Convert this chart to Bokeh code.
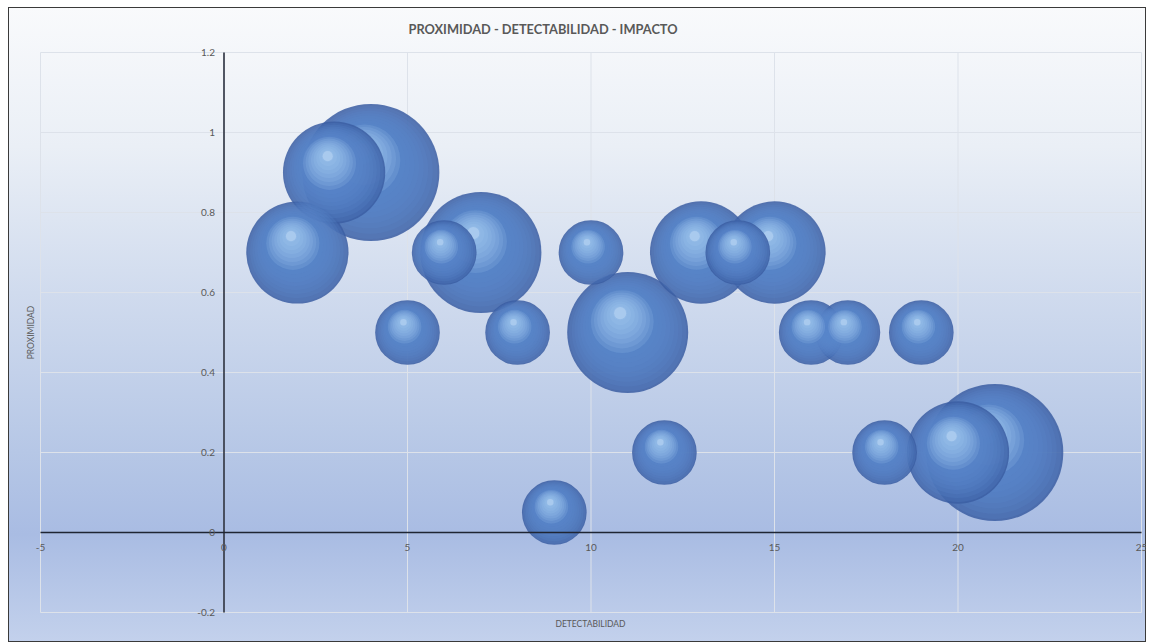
import math
from bokeh.plotting import figure
from bokeh.models import ColumnDataSource, LabelSet, Title
from bokeh.core.properties import value
from bokeh.embed import file_html
from bokeh.resources import INLINE

# ---------------- data ----------------
detectabilidad = [2, 3, 4, 5, 6, 7, 8, 9, 10, 11, 12, 13, 14, 15, 16, 17, 18, 19, 20, 21]
proximidad = [0.7, 0.9, 0.9, 0.5, 0.7, 0.7, 0.5, 0.05, 0.7, 0.5, 0.2, 0.7, 0.7, 0.7, 0.5, 0.5, 0.2, 0.5, 0.2, 0.2]
impacto = [5, 5, 9, 2, 2, 7, 2, 2, 2, 7, 2, 5, 2, 5, 2, 2, 2, 2, 5, 9]

x_ticks = [-5, 0, 5, 10, 15, 20, 25]
x_tick_labels = ["-5", "0", "5", "10", "15", "20", "25"]
y_ticks = [-0.2, 0, 0.2, 0.4, 0.6, 0.8, 1.0, 1.2]
y_tick_labels = ["-0.2", "0", "0.2", "0.4", "0.6", "0.8", "1", "1.2"]

title_text = "PROXIMIDAD - DETECTABILIDAD - IMPACTO"
x_title = "DETECTABILIDAD"
y_title = "PROXIMIDAD"

# ---------------- layout ----------------
XMIN, XMAX, YMIN, YMAX = x_ticks[0], x_ticks[-1], y_ticks[0], y_ticks[-1]
W, H = 1138, 635
ML, MR, MT, MB = 26, 0, 39, 24
PADL, PADR, PADT, PADB = 6, 5, 6, 6          # room inside the frame for edge tick labels
FW, FH = W - ML - MR, H - MT - MB
AW, AH = FW - PADL - PADR, FH - PADT - PADB   # plot-area size in px
sx = AW / (XMAX - XMIN)
sy = AH / (YMAX - YMIN)

FONT = "Lato"
GRAY = "#595959"

p = figure(width=W, height=H,
           x_range=(XMIN - PADL / sx, XMAX + PADR / sx),
           y_range=(YMIN - PADB / sy, YMAX + PADT / sy),
           output_backend="svg", toolbar_location=None,
           x_axis_location=None, y_axis_location=None,
           min_border_left=ML, min_border_right=MR,
           min_border_top=MT, min_border_bottom=MB)
p.background_fill_alpha = 0
p.border_fill_alpha = 0
p.outline_line_color = None
p.xgrid.visible = False
p.ygrid.visible = False
p.styles = {
    "margin-left": "8px",
    "margin-top": "7px",
    "background-image": "linear-gradient(to bottom, #f9fafc 0%, #eaeff6 22%, #d0dbee 45%, #b6c7e6 70%, #a9bce3 83%, #c3d1ec 100%)",
    "outline": "1px solid #3a3a3a",
    "outline-offset": "-1px",
}

# grid lines (plot area limited to the tick range)
GRID = "#dde2ea"
p.segment(x0=x_ticks, x1=x_ticks, y0=[YMIN] * len(x_ticks), y1=[YMAX] * len(x_ticks),
          line_color=GRID, line_width=1)
p.segment(x0=[XMIN] * len(y_ticks), x1=[XMAX] * len(y_ticks), y0=y_ticks, y1=y_ticks,
          line_color=GRID, line_width=1)

# ---------------- bubbles ----------------
dmax = 0.245 * min(AW, AH)
imax = max(impacto)

# shading layers: (radius fraction, x offset frac, y offset frac, colour, alpha)
layers = [(1.0, 0.0, 0.0, "#3b5ea3", 0.86)]
NB = 9
for k in range(NB):
    t = k / (NB - 1)
    layers.append((0.97 - 0.45 * t, -0.085 * t, 0.17 * t, "#5b88cb", 0.22))
NH = 8
for k in range(NH):
    t = k / (NH - 1)
    layers.append((0.52 - 0.40 * t, -0.09 - 0.035 * t, 0.18 + 0.14 * t, "#a9ccf3", 0.16))
layers.append((0.10, -0.125, 0.32, "#d4e7fb", 0.35))

for size in sorted(set(impacto), reverse=True):
    idx = [i for i in range(len(impacto)) if impacto[i] == size]
    r = dmax / 2 * math.sqrt(size / imax)
    for frac, dxf, dyf, col, al in layers:
        src = ColumnDataSource(dict(
            x=[detectabilidad[i] + dxf * r / sx for i in idx],
            y=[proximidad[i] + dyf * r / sy for i in idx]))
        p.scatter(x="x", y="y", source=src, size=2 * r * frac, marker="circle",
                  fill_color=col, fill_alpha=al, line_color=None)

# ---------------- axes (crossing at 0) ----------------
AXC = "#1f2533"
p.segment(x0=[XMIN], x1=[XMAX], y0=[0], y1=[0], line_color=AXC, line_width=1.5)
p.segment(x0=[0], x1=[0], y0=[YMIN], y1=[YMAX], line_color=AXC, line_width=1.5)

xsrc = ColumnDataSource(dict(x=x_ticks, y=[0] * len(x_ticks), t=x_tick_labels))
ysrc = ColumnDataSource(dict(x=[0] * len(y_ticks), y=y_ticks, t=y_tick_labels))
p.add_layout(LabelSet(x="x", y="y", text="t", source=xsrc, y_offset=-15,
                      text_align="center", text_baseline="middle",
                      text_font=value(FONT), text_font_size=value("10px"),
                      text_color=GRAY))
p.add_layout(LabelSet(x="x", y="y", text="t", source=ysrc, x_offset=-9,
                      text_align="right", text_baseline="middle",
                      text_font=value(FONT), text_font_size=value("10px"),
                      text_color=GRAY))

# ---------------- titles ----------------
p.add_layout(Title(text=title_text, align="left", offset=374, standoff=20,
                   text_font=FONT, text_font_size="12.8px", text_font_style="bold",
                   text_color=GRAY), "above")
p.add_layout(Title(text=x_title, align="center", standoff=-3,
                   text_font=FONT, text_font_size="8.5px", text_font_style="normal",
                   text_color=GRAY), "below")
p.add_layout(Title(text=y_title, align="center", standoff=-2,
                   text_font=FONT, text_font_size="8.5px", text_font_style="normal",
                   text_color=GRAY), "left")

open("out.html", "w").write(file_html(p, INLINE))
